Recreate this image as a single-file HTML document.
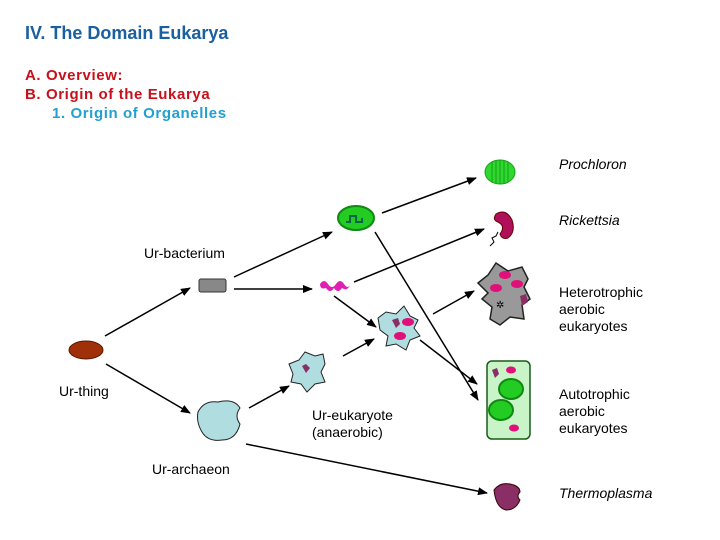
<!DOCTYPE html>
<html><head><meta charset="utf-8"><style>
body{margin:0;width:720px;height:540px;background:#fff;overflow:hidden}
svg{display:block}
.t{font-family:"Liberation Sans",sans-serif;font-size:15px;font-weight:bold;letter-spacing:0.6px}
.h{font-family:"Liberation Sans",sans-serif;font-size:18px;font-weight:bold;fill:#1a5fa0}
.l{font-family:"Liberation Sans",sans-serif;font-size:14px;fill:#000}
</style></head><body>
<svg width="720" height="540" viewBox="0 0 720 540">
<defs><marker id="a" markerWidth="10" markerHeight="8" refX="9" refY="4" orient="auto" markerUnits="userSpaceOnUse"><path d="M0,0 L10,4 L0,8 Z" fill="#000"/></marker></defs>
<text x="25" y="39" class="h">IV. The Domain Eukarya</text>
<text x="25" y="80" class="t" style="fill:#c8101a">A.  Overview:</text>
<text x="25" y="99" class="t" style="fill:#c8101a">B.  Origin of the Eukarya</text>
<text x="52" y="118" class="t" style="fill:#22a0d0">1. Origin of Organelles</text>
<g stroke="#000" stroke-width="1.5" marker-end="url(#a)">
<line x1="105" y1="336" x2="190" y2="288"/>
<line x1="106" y1="364" x2="190" y2="413"/>
<line x1="234" y1="277" x2="332" y2="232"/>
<line x1="234" y1="289" x2="312" y2="289"/>
<line x1="382" y1="213" x2="476" y2="178"/>
<line x1="354" y1="282" x2="484" y2="229"/>
<line x1="375" y1="232" x2="478" y2="400"/>
<line x1="334" y1="296" x2="376" y2="327"/>
<line x1="249" y1="408" x2="289" y2="386"/>
<line x1="343" y1="356" x2="374" y2="339"/>
<line x1="433" y1="314" x2="474" y2="291"/>
<line x1="420" y1="340" x2="477" y2="384"/>
<line x1="246" y1="444" x2="487" y2="493"/>
</g>
<ellipse cx="86" cy="350" rx="17" ry="9" fill="#a0300a" stroke="#5a1800"/>
<rect x="199" y="279" width="27" height="13" rx="2" fill="#888" stroke="#333"/>
<ellipse cx="500" cy="172" rx="15" ry="12" fill="#2ed82e" stroke="#1aa01a"/>
<g stroke="#1aa01a" stroke-width="1"><line x1="492" y1="162" x2="492" y2="182"/><line x1="496" y1="160" x2="496" y2="184"/><line x1="500" y1="160" x2="500" y2="184"/><line x1="504" y1="160" x2="504" y2="184"/><line x1="508" y1="162" x2="508" y2="182"/></g>
<ellipse cx="356" cy="218" rx="18" ry="12" fill="#22cc22" stroke="#118811" stroke-width="2"/>
<path d="M346,222 h4 v-6 h6 v6 h6 v-4" fill="none" stroke="#064" stroke-width="2"/>
<path d="M320,284 q4,-6 8,0 q4,6 8,0 q4,-6 8,0 q4,6 6,0 q-2,8 -8,4 q-4,6 -8,0 q-4,6 -8,0 q-6,2 -6,-4z" fill="#e020b0"/>
<path d="M496,214 q10,-6 16,6 q4,12 -4,18 q-6,2 -8,-4 q6,-8 -2,-12 q-6,-2 -2,-8z" fill="#b0105a" stroke="#600"/>
<path d="M490,246 l4,-4 l-2,-4 l4,-2 l2,-4" fill="none" stroke="#000"/>
<path d="M478,283 l10,-8 l8,-12 l12,8 l14,-4 l6,12 l-4,8 l6,12 l-8,6 l2,14 l-14,-2 l-10,8 l-10,-6 l2,-12 l-10,-8 l6,-6z" fill="#999" stroke="#222" stroke-width="1.5"/>
<ellipse cx="505" cy="275" rx="6" ry="4" fill="#e0107a"/>
<ellipse cx="496" cy="288" rx="6" ry="4" fill="#e0107a"/>
<ellipse cx="517" cy="284" rx="6" ry="4" fill="#e0107a"/>
<path d="M520,296 l6,-2 l2,8 l-6,4z" fill="#8a2e66"/>
<text x="496" y="308" font-size="10" font-family="DejaVu Sans">✲</text>
<path d="M378,318 l8,-6 l10,2 l8,-8 l6,10 l8,4 l-4,8 l6,8 l-10,4 l-4,10 l-10,-6 l-10,2 l2,-10 l-8,-6 z" fill="#b0dde0" stroke="#222"/>
<ellipse cx="408" cy="322" rx="6" ry="4" fill="#e0107a"/>
<ellipse cx="400" cy="336" rx="6" ry="4" fill="#e0107a"/>
<path d="M392,320 l6,-2 l2,6 l-4,4z" fill="#8a2e66"/>
<path d="M289,364 l10,-4 l6,-8 l10,4 l8,-2 l2,10 l-4,8 l4,10 l-10,2 l-8,8 l-6,-8 l-10,-2 l2,-8 z" fill="#b0dde0" stroke="#222"/>
<path d="M302,366 l4,-2 l4,4 l-4,5z" fill="#8a2e66"/>
<path d="M198,412 q6,-12 20,-10 q16,-4 22,6 q-6,8 0,16 q-4,16 -18,16 q-14,2 -20,-8 q-6,-10 -4,-20z" fill="#b0dde0" stroke="#222"/>
<rect x="487" y="361" width="43" height="78" rx="5" fill="#c8f4c8" stroke="#1a5a1a" stroke-width="1.5"/>
<ellipse cx="511" cy="389" rx="12" ry="10" fill="#22cc22" stroke="#118811" stroke-width="2"/>
<ellipse cx="501" cy="410" rx="12" ry="10" fill="#22cc22" stroke="#118811" stroke-width="2"/>
<ellipse cx="511" cy="370" rx="5" ry="3.5" fill="#e0107a"/>
<ellipse cx="514" cy="428" rx="5" ry="3.5" fill="#e0107a"/>
<path d="M492,370 l5,-2 l2,6 l-4,4z" fill="#8a2e66"/>
<path d="M494,490 q6,-8 16,-6 q10,2 10,8 q-4,4 0,8 q-4,10 -14,10 q-10,-2 -12,-20z" fill="#8a2e66" stroke="#300"/>
<text x="559" y="169" class="l" font-style="italic">Prochloron</text>
<text x="559" y="225" class="l" font-style="italic">Rickettsia</text>
<text x="559" y="297" class="l">Heterotrophic</text>
<text x="559" y="314" class="l">aerobic</text>
<text x="559" y="331" class="l">eukaryotes</text>
<text x="559" y="399" class="l">Autotrophic</text>
<text x="559" y="416" class="l">aerobic</text>
<text x="559" y="433" class="l">eukaryotes</text>
<text x="559" y="498" class="l" font-style="italic">Thermoplasma</text>
<text x="144" y="258" class="l">Ur-bacterium</text>
<text x="59" y="396" class="l">Ur-thing</text>
<text x="312" y="420" class="l">Ur-eukaryote</text>
<text x="312" y="437" class="l">(anaerobic)</text>
<text x="152" y="474" class="l">Ur-archaeon</text>
</svg>
</body></html>
